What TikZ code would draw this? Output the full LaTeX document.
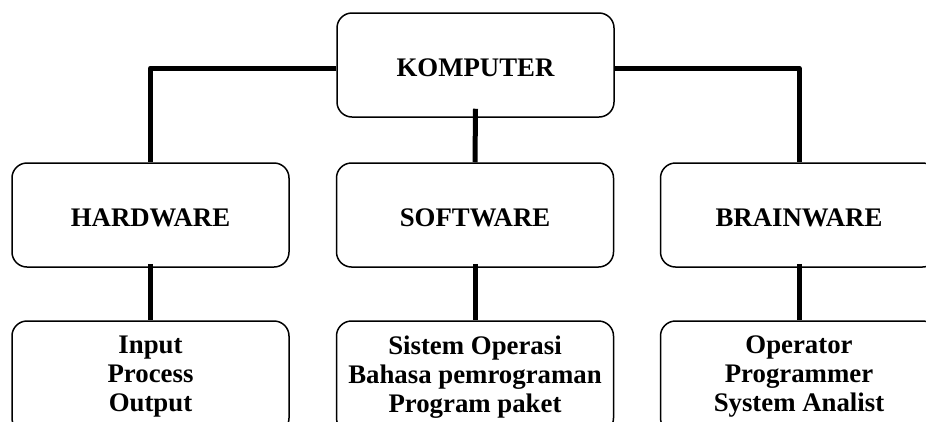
\documentclass[tikz,border=0pt]{standalone}
\usepackage{fontspec}
\setmainfont{Liberation Serif}
\begin{document}
\begin{tikzpicture}[x=1pt,y=-1pt, line join=round,
		kotak/.style={draw, line width=1.5pt, rounded corners=15pt, minimum width=277pt, minimum height=104pt, inner sep=0pt, align=center, font=\fontsize{26.8}{29}\selectfont\bfseries},
		judul/.style={kotak, text height=22pt, text depth=0pt},
		isi/.style={kotak, minimum height=112pt},
		garis/.style={line width=5pt}]
		\useasboundingbox (0,0) rectangle (926,421);
		\node[judul] (komputer) at (475.5,65) {KOMPUTER};
		\node[judul] (hardware) at (150.5,215) {HARDWARE};
		\node[judul] (software) at (475,215) {SOFTWARE};
		\node[judul] (brainware) at (799,215) {BRAINWARE};
		\node[isi] (isihw) at (150.5,377) {Input\\Process\\Output};
		\node[isi] (isisw) at (475,377) {Sistem Operasi\\Bahasa pemrograman\\Program paket};
		\node[isi] (isibw) at (799,377) {Operator\\Programmer\\System Analist};
		\draw[garis] ([yshift=-3pt]komputer.west) -| (hardware.north);
		\draw[garis] ([yshift=-3pt]komputer.east) -| (brainware.north);
		\draw[garis] ([yshift=9pt]komputer.south) -- (software.north);
		\draw[garis] ([yshift=4pt]hardware.south) -- (isihw.north);
		\draw[garis] ([yshift=4pt]software.south) -- (isisw.north);
		\draw[garis] ([yshift=4pt]brainware.south) -- (isibw.north);
	\end{tikzpicture}
\end{document}
